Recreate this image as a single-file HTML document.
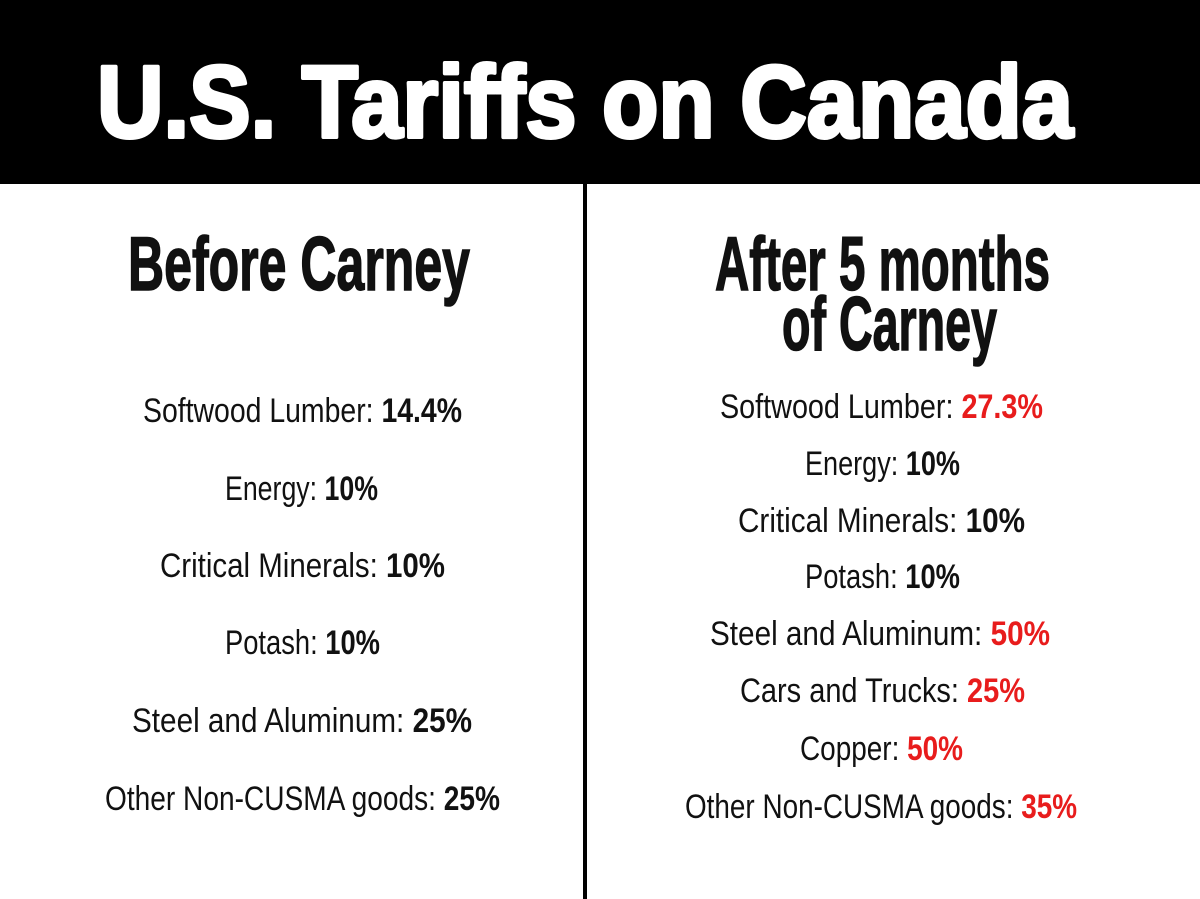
<!DOCTYPE html>
<html><head><meta charset="utf-8"><style>
html,body{margin:0;padding:0;background:#fff;width:1200px;height:899px;overflow:hidden}
svg{display:block}
.t{font-family:"Liberation Sans Narrow","Liberation Sans",sans-serif;font-size:34px;fill:#111}
.b{font-weight:bold}
.r{fill:#e81c1c;font-weight:bold}
.h{font-family:"Liberation Sans Narrow","Liberation Sans",sans-serif;font-weight:bold;font-size:76px;fill:#111;stroke:#111;stroke-width:1.5}
</style></head><body>
<svg width="1200" height="899" viewBox="0 0 1200 899">
<rect x="0" y="0" width="1200" height="184" fill="#000"/>
<text x="97" y="137" textLength="976" lengthAdjust="spacingAndGlyphs" font-family="Liberation Sans, sans-serif" font-weight="bold" font-size="102" fill="#fff" stroke="#fff" stroke-width="4" stroke-linejoin="round">U.S. Tariffs on Canada</text>
<rect x="583" y="184" width="4" height="715" fill="#000"/>

<text class="h" x="128" y="290" textLength="342" lengthAdjust="spacingAndGlyphs">Before Carney</text>
<text class="h" x="715" y="290" textLength="335" lengthAdjust="spacingAndGlyphs">After 5 months</text>
<text class="h" x="782" y="350" textLength="215" lengthAdjust="spacingAndGlyphs">of Carney</text>

<g>
<text class="t" x="143" y="422" textLength="319" lengthAdjust="spacingAndGlyphs">Softwood Lumber: <tspan class="b">14.4%</tspan></text>
<text class="t" x="225" y="500" textLength="153" lengthAdjust="spacingAndGlyphs">Energy: <tspan class="b">10%</tspan></text>
<text class="t" x="160" y="577" textLength="285" lengthAdjust="spacingAndGlyphs">Critical Minerals: <tspan class="b">10%</tspan></text>
<text class="t" x="225" y="654" textLength="155" lengthAdjust="spacingAndGlyphs">Potash: <tspan class="b">10%</tspan></text>
<text class="t" x="132" y="732" textLength="340" lengthAdjust="spacingAndGlyphs">Steel and Aluminum: <tspan class="b">25%</tspan></text>
<text class="t" x="105" y="810" textLength="395" lengthAdjust="spacingAndGlyphs">Other Non-CUSMA goods: <tspan class="b">25%</tspan></text>
</g>

<g>
<text class="t" x="720" y="418" textLength="323" lengthAdjust="spacingAndGlyphs">Softwood Lumber: <tspan class="r">27.3%</tspan></text>
<text class="t" x="805" y="475" textLength="155" lengthAdjust="spacingAndGlyphs">Energy: <tspan class="b">10%</tspan></text>
<text class="t" x="738" y="532" textLength="287" lengthAdjust="spacingAndGlyphs">Critical Minerals: <tspan class="b">10%</tspan></text>
<text class="t" x="805" y="588" textLength="155" lengthAdjust="spacingAndGlyphs">Potash: <tspan class="b">10%</tspan></text>
<text class="t" x="710" y="645" textLength="340" lengthAdjust="spacingAndGlyphs">Steel and Aluminum: <tspan class="r">50%</tspan></text>
<text class="t" x="740" y="702" textLength="285" lengthAdjust="spacingAndGlyphs">Cars and Trucks: <tspan class="r">25%</tspan></text>
<text class="t" x="800" y="760" textLength="163" lengthAdjust="spacingAndGlyphs">Copper: <tspan class="r">50%</tspan></text>
<text class="t" x="685" y="818" textLength="392" lengthAdjust="spacingAndGlyphs">Other Non-CUSMA goods: <tspan class="r">35%</tspan></text>
</g>
</svg>
</body></html>
